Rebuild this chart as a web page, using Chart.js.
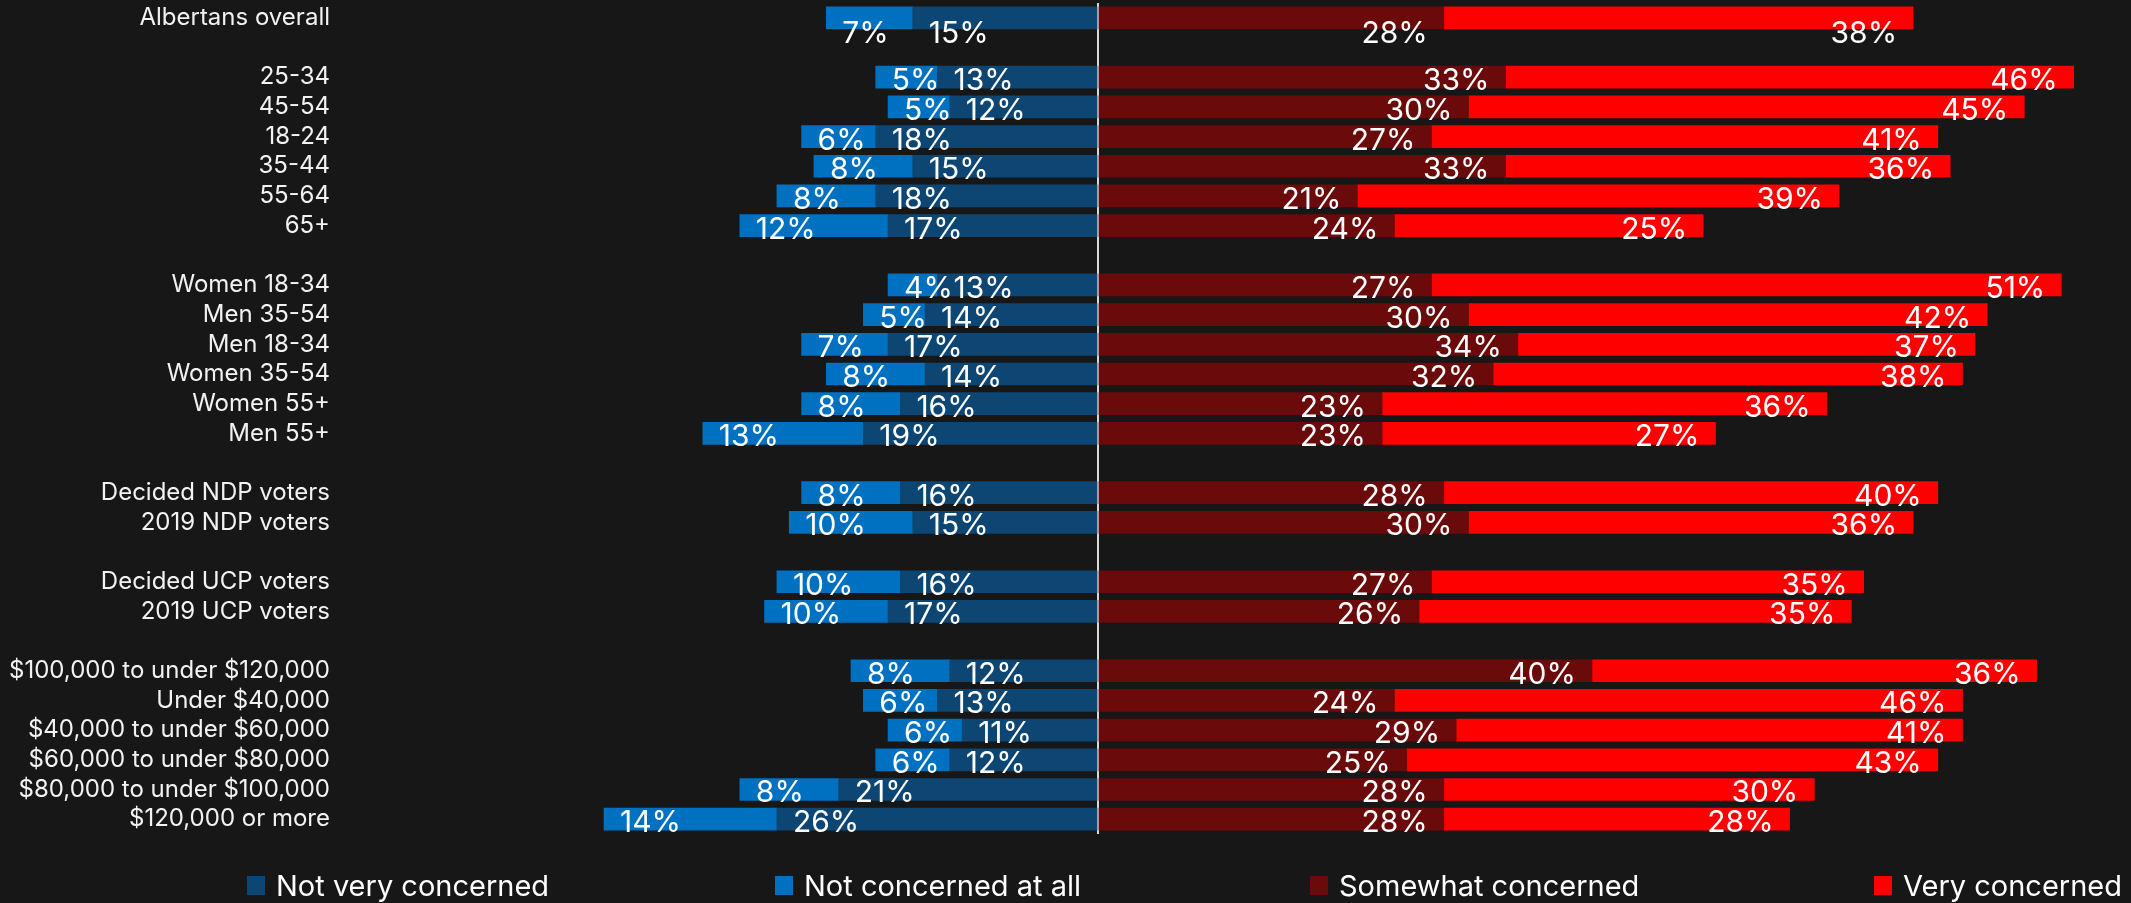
<!DOCTYPE html>
<html>
<head>
<meta charset="utf-8">
<script src="https://cdn.jsdelivr.net/npm/chart.js@4.4.1/dist/chart.umd.min.js"></script>
<style>
  html, body { margin: 0; padding: 0; background: #171717; }
  #wrap { position: relative; width: 2131px; height: 903px; }
  #legend { position: absolute; top: 868px; left: 0; width: 2131px; height: 34px; font-family: Inter, sans-serif; font-size: 29px; color: #fff; }
  .item { position: absolute; top: 0; height: 34px; display: flex; align-items: center; white-space: nowrap; }
  .box { width: 18px; height: 19px; margin-right: 11px; }
</style>
</head>
<body>
<div id="wrap">
  <canvas id="concern-chart" width="2131" height="903"></canvas>
  <div id="legend"></div>
</div>
<script>
// rows top to bottom, '' rows are the gaps between groups
const groups = [
  'Albertans overall', '',
  '25-34', '45-54', '18-24', '35-44', '55-64', '65+', '',
  'Women 18-34', 'Men 35-54', 'Men 18-34', 'Women 35-54', 'Women 55+', 'Men 55+', '',
  'Decided NDP voters', '2019 NDP voters', '',
  'Decided UCP voters', '2019 UCP voters', '',
  '$100,000 to under $120,000', 'Under $40,000', '$40,000 to under $60,000',
  '$60,000 to under $80,000', '$80,000 to under $100,000', '$120,000 or more'
];

const notVery    = [15, null, 13, 12, 18, 15, 18, 17, null, 13, 14, 17, 14, 16, 19, null, 16, 15, null, 16, 17, null, 12, 13, 11, 12, 21, 26];
const notAtAll   = [7, null, 5, 5, 6, 8, 8, 12, null, 4, 5, 7, 8, 8, 13, null, 8, 10, null, 10, 10, null, 8, 6, 6, 6, 8, 14];
const somewhat   = [28, null, 33, 30, 27, 33, 21, 24, null, 27, 30, 34, 32, 23, 23, null, 28, 30, null, 27, 26, null, 40, 24, 29, 25, 28, 28];
const very       = [38, null, 46, 45, 41, 36, 39, 25, null, 51, 42, 37, 38, 36, 27, null, 40, 36, null, 35, 35, null, 36, 46, 41, 43, 30, 28];

const seriesNames = ['Not very concerned', 'Not concerned at all', 'Somewhat concerned', 'Very concerned'];
const seriesColors = ['#0d4673', '#0070c0', '#6a0a0b', '#ff0000'];

const neg = arr => arr.map(v => v === null ? null : -v);

const valueLabels = {
  id: 'valueLabels',
  afterDatasetsDraw(chart) {
    const ctx = chart.ctx;
    ctx.save();
    ctx.font = '30px Inter, sans-serif';
    ctx.fillStyle = '#ffffff';
    ctx.textBaseline = 'alphabetic';
    chart.data.datasets.forEach((ds, di) => {
      const meta = chart.getDatasetMeta(di);
      meta.data.forEach((bar, i) => {
        const v = ds.data[i];
        if (v === null) return;
        // the overall row has its labels dropped under the bar
        const y = bar.y + (i === 0 ? 25 : 13);
        if (v < 0) {
          ctx.textAlign = 'left';
          ctx.fillText(Math.abs(v) + '%', bar.x + 16, y);
        } else {
          ctx.textAlign = 'right';
          ctx.fillText(v + '%', bar.x - 16, y);
        }
      });
    });
    ctx.restore();
  }
};

const ctx = document.getElementById('concern-chart').getContext('2d');

new Chart(ctx, {
  type: 'bar',
  data: {
    labels: groups,
    datasets: [
      { label: seriesNames[0], data: neg(notVery), backgroundColor: seriesColors[0] },
      { label: seriesNames[1], data: neg(notAtAll), backgroundColor: seriesColors[1] },
      { label: seriesNames[2], data: somewhat, backgroundColor: seriesColors[2] },
      { label: seriesNames[3], data: very, backgroundColor: seriesColors[3] }
    ]
  },
  options: {
    indexAxis: 'y',
    responsive: false,
    animation: false,
    devicePixelRatio: 1,
    datasets: { bar: { barThickness: 22 } },
    layout: { padding: { top: 3, bottom: 69, right: 45, left: 0 } },
    scales: {
      x: {
        stacked: true,
        min: -60,
        max: 80,
        ticks: { display: false, stepSize: 20 },
        border: { display: false },
        grid: {
          drawTicks: false,
          lineWidth: 2,
          color: c => c.tick && c.tick.value === 0 ? '#d8d8d8' : 'rgba(0,0,0,0)'
        }
      },
      y: {
        stacked: true,
        border: { display: false },
        grid: { display: false, drawTicks: false },
        ticks: {
          color: '#f2f2f2',
          padding: 27,
          autoSkip: false,
          font: { family: 'Inter, sans-serif', size: 24 }
        },
        afterFit: scale => {
          scale.width = 357;
          scale.paddingTop = 0;
          scale.paddingBottom = 0;
        }
      }
    },
    plugins: {
      legend: { display: false },
      tooltip: { enabled: false }
    }
  },
  plugins: [valueLabels]
});

// legend row under the chart
const legendLeft = [247, 775, 1310, 1874];
const legendEl = document.getElementById('legend');
seriesNames.forEach((name, i) => {
  const item = document.createElement('div');
  item.className = 'item';
  item.style.left = legendLeft[i] + 'px';
  const box = document.createElement('span');
  box.className = 'box';
  box.style.background = seriesColors[i];
  const txt = document.createElement('span');
  txt.textContent = name;
  item.appendChild(box);
  item.appendChild(txt);
  legendEl.appendChild(item);
});
</script>
</body>
</html>
